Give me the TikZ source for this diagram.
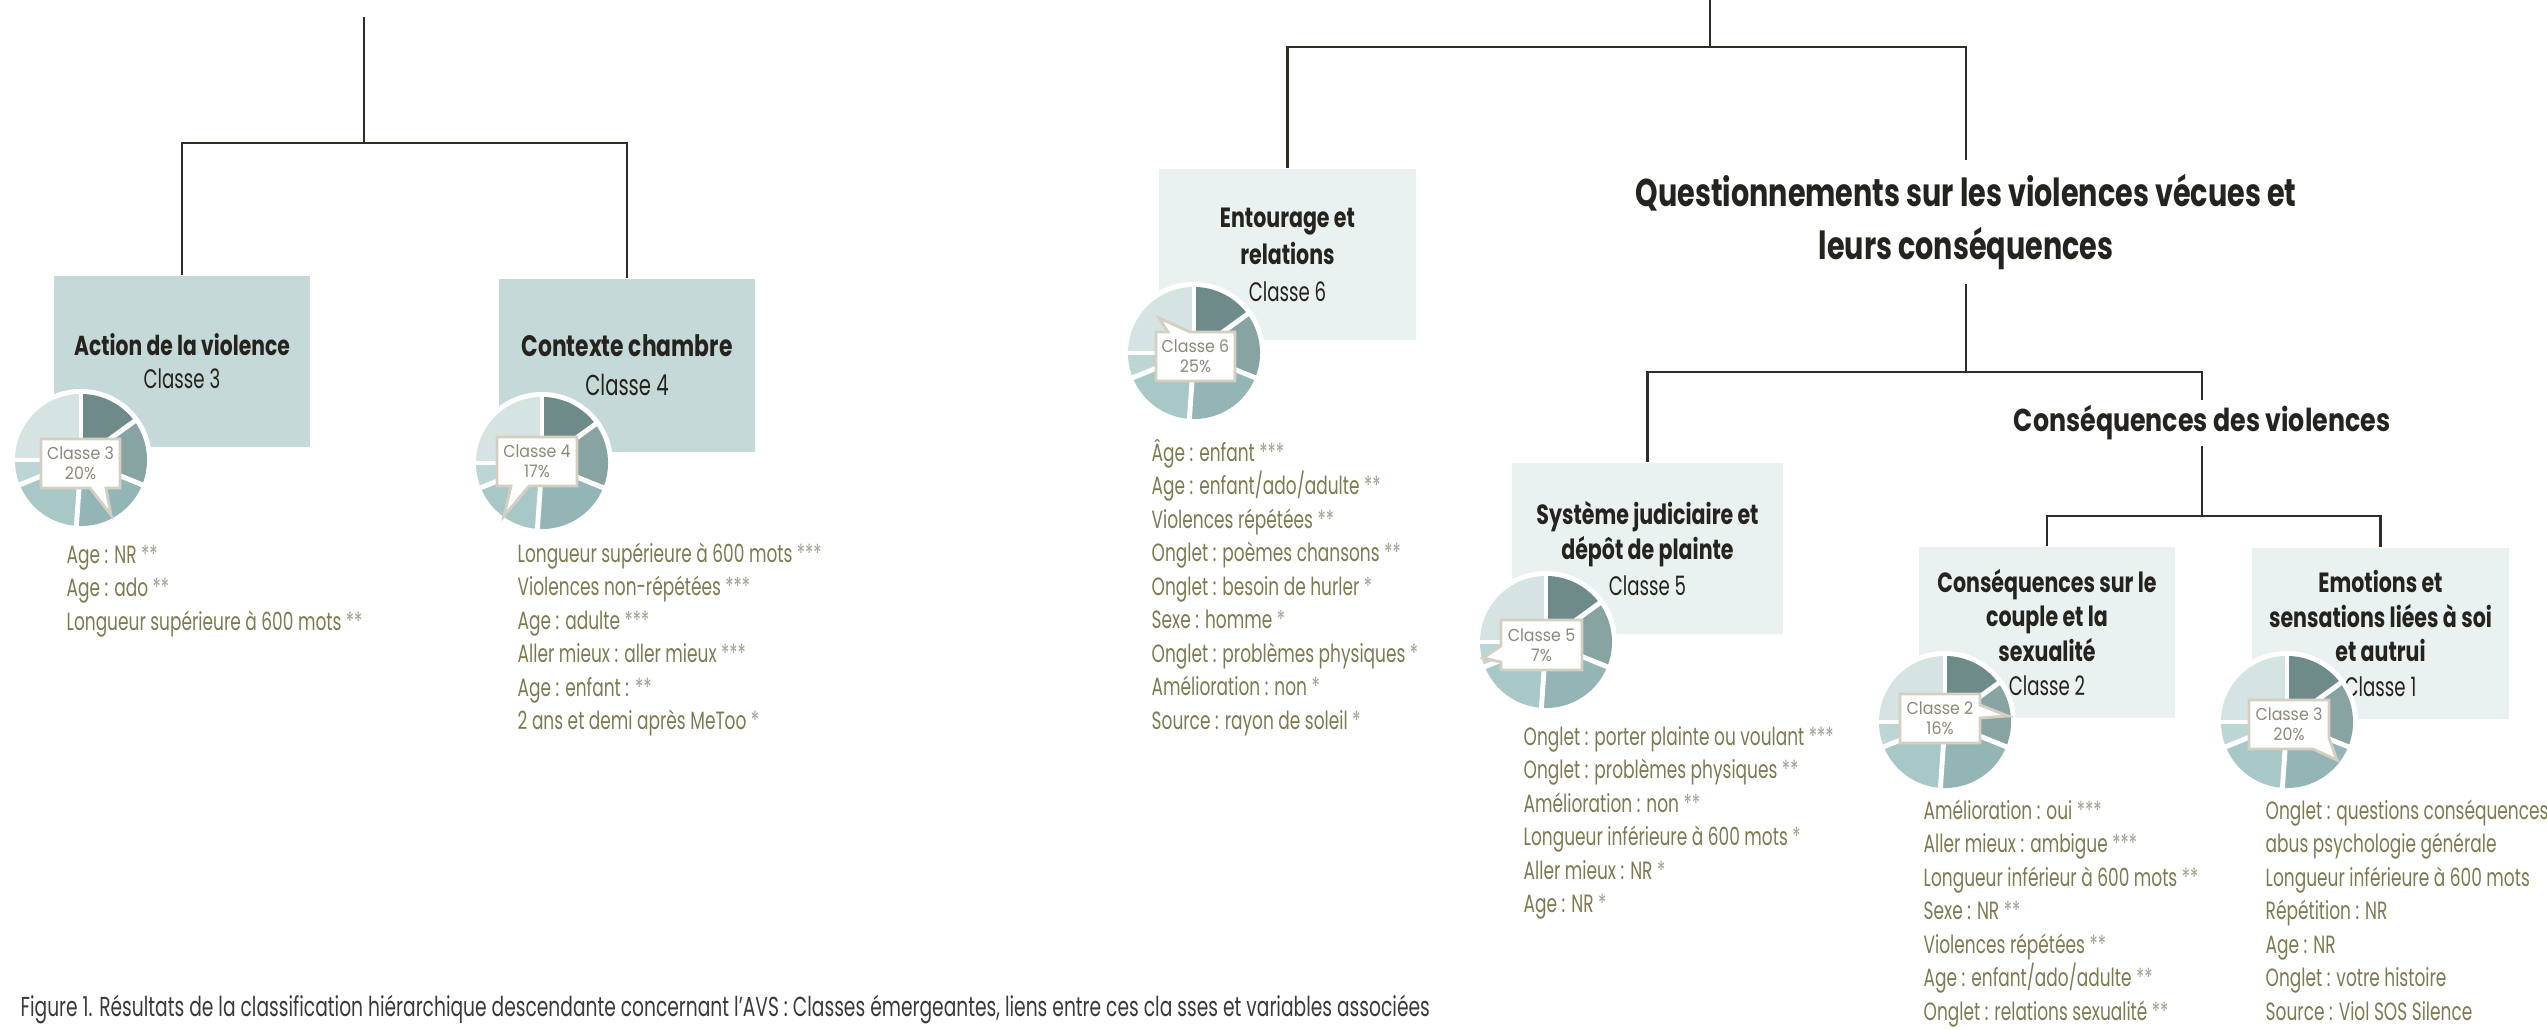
\documentclass[tikz,border=0pt]{standalone}
\usepackage{fontspec}
\setmainfont{Poppins}
\newfontfamily\condfont[FakeStretch=0.68]{Poppins}
\newfontfamily\boldcond[FakeStretch=0.74]{Poppins}
\newfontfamily\halffont[FakeStretch=0.8]{Poppins}
\newfontfamily\bubblefont[FakeStretch=0.92]{Poppins}

\definecolor{boxdark}{HTML}{C5D9D8}
\definecolor{boxlight}{HTML}{E9F2F1}
\definecolor{treeline}{HTML}{2F2D28}
\definecolor{titletext}{HTML}{24231E}
\definecolor{listtext}{HTML}{7E7A50}
\definecolor{starink}{HTML}{A3A292}
\definecolor{bubbleink}{HTML}{8E8878}
\definecolor{bubbleline}{HTML}{D5CFC2}
\definecolor{captiontext}{HTML}{3C3A36}
\definecolor{pieA}{HTML}{6F8B89}
\definecolor{pieB}{HTML}{87A3A2}
\definecolor{pieC}{HTML}{93B5B5}
\definecolor{pieD}{HTML}{A8C7C7}
\definecolor{pieE}{HTML}{BCD6D6}
\definecolor{pieF}{HTML}{D5E3E3}

\tikzset{
  tree/.style={draw=treeline, line width=0.7pt},
  classbox/.style={fill=#1, inner sep=0pt, minimum width=2.56cm, minimum height=1.71cm, align=center, text=titletext},
  bubble/.style={fill=white, draw=bubbleline, line width=0.8pt, line join=miter},
  bubbletext/.style={inner sep=0pt, align=center, text=bubbleink, font=\bubblefont\fontsize{4.9pt}{5.7pt}\selectfont},
  varitem/.style={anchor=base west, inner sep=0pt, text=listtext, font=\condfont\fontsize{7.1pt}{8pt}\selectfont},
}

\newcommand{\st}[1]{{\color{starink}#1}}
\newcommand{\bt}{\boldcond\bfseries}

% pie with six slices, centred on a named coordinate
\newcommand{\drawpie}[1]{
  \fill[white] (#1) circle[radius=0.71cm];
  \foreach \a/\b/\c in {90/36/pieA,36/-22/pieB,-22/-94/pieC,-94/-158/pieD,-158/-180/pieE,180/90/pieF}
    \fill[\c] (#1) -- ++(\a:0.66cm) arc[start angle=\a, end angle=\b, radius=0.66cm] -- cycle;
  \foreach \a in {90,36,-22,-94,-158,180}
    \draw[white, line width=1.4pt] (#1) -- ++(\a:0.7cm);
}

% list of variables, one node per line
\newcommand{\varlist}[4]{
  \foreach \t [count=\i] in {#4}
    \node[varitem] (#1-\i) at (#2, {#3+(\i-1)*33.5}) {\t};
}

\begin{document}
\begin{tikzpicture}[x=0.01cm, y=-0.01cm, line cap=butt]
  \fill[white] (0,0) rectangle (2547,1030);
  \useasboundingbox (0,0) rectangle (2547,1030);

  % class boxes
  \node[classbox=boxdark, font=\condfont\fontsize{7.6pt}{9.4pt}\selectfont] (act) at (182,361.5)
    {{\bt\fontsize{7.8pt}{9.4pt}\selectfont Action de la violence}\\Classe 3};
  \node[classbox=boxdark, minimum height=1.73cm, font=\condfont\fontsize{8.2pt}{11pt}\selectfont] (ctx) at (627,365.5)
    {{\bt\fontsize{8.4pt}{11pt}\selectfont Contexte chambre}\\Classe 4};
  \node[classbox=boxlight, font=\condfont\fontsize{7.6pt}{10.5pt}\selectfont] (ent) at (1287.5,254.5)
    {{\bt\fontsize{7.9pt}{10.5pt}\selectfont Entourage et}\\{\bt\fontsize{7.9pt}{10.5pt}\selectfont relations}\\Classe 6};
  \node[classbox=boxlight, minimum width=2.71cm, font=\condfont\fontsize{7.6pt}{10pt}\selectfont] (jud) at (1647.5,548.5)
    {{\bt\fontsize{7.9pt}{10pt}\selectfont Système judiciaire et}\\{\bt\fontsize{7.9pt}{10pt}\selectfont dépôt de plainte}\\Classe 5};
  \node[classbox=boxlight, font=\condfont\fontsize{7.6pt}{9.8pt}\selectfont] (coup) at (2047,632.5)
    {{\bt\fontsize{7.9pt}{10pt}\selectfont Conséquences sur le}\\{\bt\fontsize{7.9pt}{9.8pt}\selectfont couple et la}\\{\bt\fontsize{7.9pt}{9.8pt}\selectfont sexualité}\\Classe 2};
  \node[classbox=boxlight, font=\condfont\fontsize{7.6pt}{9.8pt}\selectfont] (emo) at (2380.5,633.5)
    {{\bt\fontsize{7.9pt}{10pt}\selectfont Emotions et}\\{\bt\fontsize{7.9pt}{9.8pt}\selectfont sensations liées à soi}\\{\bt\fontsize{7.9pt}{9.8pt}\selectfont et autrui}\\Classe 1};

  % group titles
  \node[align=center, minimum height=1.22cm, inner sep=0pt, text=titletext,
    font=\bt\fontsize{11pt}{15.1pt}\selectfont] (quest) at (1966,222)
    {Questionnements sur les violences vécues et\\leurs conséquences};
  \node[minimum height=0.44cm, inner sep=0pt, text=titletext,
    font=\halffont\bfseries\fontsize{9pt}{10pt}\selectfont] (cons) at (2202,423)
    {Conséquences des violences};

  % tree
  \coordinate (ltop) at (364,17);
  \coordinate (lj) at (364,143);
  \draw[tree] (ltop) -- (lj);
  \draw[tree] (lj) -| (act.north);
  \draw[tree] (lj) -| (ctx.north);
  \coordinate (rtop) at (1710,0);
  \coordinate (rj) at (1710,47);
  \draw[tree] (rtop) -- (rj);
  \draw[tree] (rj) -| (ent.north);
  \draw[tree] (rj) -| (quest.north);
  \coordinate (qj) at (1966,372);
  \draw[tree] (quest.south) -- (qj);
  \draw[tree] (qj) -| (jud.north);
  \draw[tree] (qj) -| (cons.north);
  \coordinate (cj) at (2202,516);
  \draw[tree] (cons.south) -- (cj);
  \draw[tree] (cj) -| (coup.north);
  \draw[tree] (cj) -| (emo.north);

  % pies
  \coordinate (p3) at (81,460);
  \coordinate (p4) at (542,463);
  \coordinate (p6) at (1194,353);
  \coordinate (p5) at (1546,642);
  \coordinate (p2) at (1945,722);
  \coordinate (p1) at (2287,722);
  \foreach \p in {p3,p4,p6,p5,p2,p1}
    {\drawpie{\p}}

  % callouts
  \filldraw[bubble] (41,439) -- (120,439) -- (120,488) -- (106,488) -- (111,515) -- (90,488) -- (41,488) -- cycle;
  \node[bubbletext] (b3) at (80.5,463.5) {Classe 3\\20\%};
  \filldraw[bubble] (497,437) -- (577,437) -- (577,486) -- (529,486) -- (504,516) -- (511,486) -- (497,486) -- cycle;
  \node[bubbletext] (b4) at (537,461.5) {Classe 4\\17\%};
  \filldraw[bubble] (1156,332) -- (1168,332) -- (1159,318) -- (1190,332) -- (1235,332) -- (1235,381) -- (1156,381) -- cycle;
  \node[bubbletext] (b6) at (1195.5,356.5) {Classe 6\\25\%};
  \filldraw[bubble] (1501,620) -- (1582,620) -- (1582,670) -- (1501,670) -- (1501,662) -- (1483,658) -- (1501,646) -- cycle;
  \node[bubbletext] (b5) at (1541.5,645) {Classe 5\\7\%};
  \filldraw[bubble] (1900,694) -- (1980,694) -- (1980,705) -- (2008,716) -- (1980,718) -- (1980,743) -- (1900,743) -- cycle;
  \node[bubbletext] (b2) at (1940,718.5) {Classe 2\\16\%};
  \filldraw[bubble] (2249,700) -- (2329,700) -- (2329,738) -- (2337,760) -- (2313,749) -- (2249,749) -- cycle;
  \node[bubbletext] (b1) at (2289,724.5) {Classe 3\\20\%};

  % variables
  \varlist{l3}{66}{563}{Age : NR \st{**}, Age : ado \st{**}, Longueur supérieure à 600 mots \st{**}}
  \varlist{l4}{517}{562}{Longueur supérieure à 600 mots \st{***}, Violences non-répétées \st{***}, Age : adulte \st{***}, Aller mieux : aller mieux \st{***}, Age : enfant : \st{**}, 2 ans et demi après MeToo \st{*}}
  \varlist{l6}{1151}{461}{Âge : enfant \st{***}, Age : enfant/ado/adulte \st{**}, Violences répétées \st{**}, Onglet : poèmes chansons \st{**}, Onglet : besoin de hurler \st{*}, Sexe : homme \st{*}, Onglet : problèmes physiques \st{*}, Amélioration : non \st{*}, Source : rayon de soleil \st{*}}
  \varlist{l5}{1523}{745}{Onglet : porter plainte ou voulant \st{***}, Onglet : problèmes physiques \st{**}, Amélioration : non \st{**}, Longueur inférieure à 600 mots \st{*}, Aller mieux : NR \st{*}, Age : NR \st{*}}
  \varlist{l2}{1923}{819}{Amélioration : oui \st{***}, Aller mieux : ambigue \st{***}, Longueur inférieur à 600 mots \st{**}, Sexe : NR \st{**}, Violences répétées \st{**}, Age : enfant/ado/adulte \st{**}, Onglet : relations sexualité \st{**}}
  \varlist{l1}{2265}{819}{Onglet : questions conséquences, abus psychologie générale, Longueur inférieure à 600 mots, Répétition : NR, Age : NR, Onglet : votre histoire, Source : Viol SOS Silence}

  % caption
  \node[anchor=base west, inner sep=0pt, text=captiontext, font=\condfont\fontsize{7.8pt}{8pt}\selectfont] (caption) at (20,1016)
    {Figure 1. Résultats de la classification hiérarchique descendante concernant l’AVS : Classes émergeantes, liens entre ces cla sses et variables associées};
\end{tikzpicture}
\end{document}
